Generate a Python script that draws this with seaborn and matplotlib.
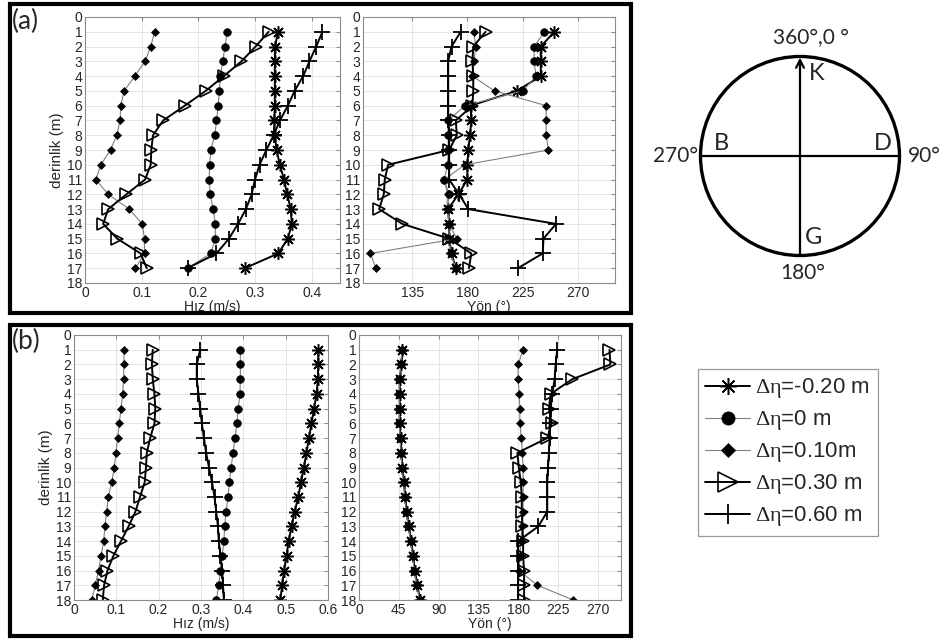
import numpy as np
import pandas as pd
import matplotlib
matplotlib.use('Agg')
import matplotlib.pyplot as plt
import seaborn as sns
from matplotlib.patches import Circle, Rectangle
from matplotlib.lines import Line2D

sns.set_style("white")
plt.rcParams['font.family'] = ['Liberation Sans', 'DejaVu Sans']
plt.rcParams['mathtext.fontset'] = 'custom'
plt.rcParams['mathtext.rm'] = 'Liberation Serif'
plt.rcParams['mathtext.it'] = 'Liberation Serif'

# derinlik (m)
depth_a = list(range(1, 18))
depth_b = list(range(1, 19))

series_labels = [r"$\Delta\eta$=-0.20 m", r"$\Delta\eta$=0 m", r"$\Delta\eta$=0.10m",
                 r"$\Delta\eta$=0.30 m", r"$\Delta\eta$=0.60 m"]

# (a) hiz (m/s)
hiz_a_m020 = [0.341, 0.335, 0.335, 0.335, 0.335, 0.335, 0.334, 0.335, 0.338, 0.344, 0.351, 0.357, 0.363, 0.365, 0.358, 0.341, 0.282]
hiz_a_0 = [0.251, 0.247, 0.243, 0.239, 0.237, 0.235, 0.232, 0.229, 0.222, 0.220, 0.219, 0.221, 0.226, 0.230, 0.230, 0.222, 0.181]
hiz_a_010 = [0.123, 0.116, 0.106, 0.088, 0.069, 0.063, 0.062, 0.056, 0.045, 0.028, 0.019, 0.041, 0.078, 0.101, 0.105, 0.105, 0.089]
hiz_a_030 = [0.324, 0.301, 0.276, 0.245, 0.213, 0.176, 0.138, 0.120, 0.117, 0.116, 0.106, 0.073, 0.041, 0.032, 0.057, 0.098, 0.109]
hiz_a_060 = [0.419, 0.408, 0.396, 0.385, 0.370, 0.358, 0.344, 0.333, 0.320, 0.308, 0.300, 0.294, 0.284, 0.270, 0.254, 0.232, 0.181]

# (a) yon (derece)
yon_a_m020 = [250.6, 239.6, 239.6, 239.6, 220.2, 182.6, 183.1, 182.0, 180.7, 179.9, 179.9, 172.6, 164.3, 165.1, 165.1, 167.0, 170.5]
yon_a_0 = [242.6, 234.2, 234.2, 235.8, 225.0, 178.0, 164.3, 164.3, 164.3, 163.8, 161.0, 165.1, 163.8, 165.1, 165.1, 166.5, 170.5]
yon_a_010 = [185.3, 186.6, 185.3, 184.0, 202.0, 244.0, 244.0, 244.0, 245.8, 177.8, 161.1, 163.8, 163.2, 165.1, 171.3, 101.1, 105.4]
yon_a_030 = [194.7, 184.7, 184.0, 184.7, 184.7, 184.0, 170.5, 171.3, 165.1, 115.4, 112.7, 111.9, 108.1, 127.0, 165.1, 183.1, 181.2]
yon_a_060 = [174.5, 167.0, 164.3, 164.3, 164.3, 164.3, 164.3, 165.1, 165.1, 165.1, 165.1, 173.2, 180.7, 252.0, 241.8, 241.2, 221.0]

# (b) hiz (m/s)
hiz_b_m020 = [0.577, 0.577, 0.576, 0.573, 0.567, 0.561, 0.555, 0.549, 0.543, 0.536, 0.530, 0.521, 0.514, 0.507, 0.502, 0.496, 0.492, 0.487]
hiz_b_0 = [0.393, 0.393, 0.393, 0.392, 0.388, 0.385, 0.380, 0.376, 0.371, 0.367, 0.364, 0.359, 0.356, 0.354, 0.350, 0.346, 0.342, 0.336]
hiz_b_010 = [0.118, 0.118, 0.117, 0.115, 0.111, 0.107, 0.103, 0.099, 0.095, 0.089, 0.081, 0.077, 0.073, 0.070, 0.064, 0.058, 0.050, 0.042]
hiz_b_030 = [0.186, 0.184, 0.186, 0.190, 0.192, 0.190, 0.180, 0.172, 0.170, 0.167, 0.156, 0.145, 0.129, 0.111, 0.093, 0.079, 0.071, 0.068]
hiz_b_060 = [0.298, 0.290, 0.290, 0.294, 0.298, 0.302, 0.307, 0.312, 0.319, 0.326, 0.332, 0.336, 0.340, 0.342, 0.346, 0.350, 0.352, 0.354]

# (b) yon (derece)
yon_b_m020 = [49, 48, 46, 46, 46, 46, 47, 48, 49, 51, 52, 54, 56, 59, 61, 63, 66, 69]
yon_b_0 = [48.5, 47.5, 45.5, 45.5, 45.5, 45.5, 46.5, 47.5, 48.5, 50.5, 51.5, 53.5, 55.5, 58.5, 60.5, 62.5, 65.5, 68.5]
yon_b_010 = [185.4, 179.8, 179.8, 180.9, 181.7, 181.7, 183.5, 184.6, 185.4, 185.4, 185.4, 185.4, 184.6, 182.5, 182.0, 180.9, 201.5, 242.0]
yon_b_030 = [283.0, 284.0, 241.0, 216.5, 214.6, 217.6, 212.7, 179.0, 180.5, 182.8, 183.9, 183.9, 184.6, 185.4, 185.4, 186.5, 186.5, 186.5]
yon_b_060 = [224.0, 222.1, 221.0, 218.3, 216.5, 215.3, 215.3, 214.6, 213.5, 212.7, 212.7, 212.7, 202.6, 179.8, 179.8, 179.8, 179.8, 179.8]

styles = [
    dict(marker=(8, 2, 0), markersize=9, color="k", linewidth=1.4,
         markerfacecolor="k", markeredgecolor="k", markeredgewidth=1.1),
    dict(marker="o", markersize=5.5, color="0.5", linewidth=0.8,
         markerfacecolor="k", markeredgecolor="k", markeredgewidth=0.5),
    dict(marker="D", markersize=4, color="0.5", linewidth=0.8,
         markerfacecolor="k", markeredgecolor="k", markeredgewidth=0.5),
    dict(marker=">", markersize=9, color="k", linewidth=1.4,
         markerfacecolor="none", markeredgecolor="k", markeredgewidth=1.2),
    dict(marker="+", markersize=11, color="k", linewidth=1.4,
         markeredgecolor="k", markeredgewidth=1.3),
]
# legend markers are drawn larger than in the plots
legend_ms = [12, 9.5, 7.5, 15, 15]


def draw_panel(ax, depth, series, xlim, xticks, xticklabels, xlabel, ylabel=None):
    for vals, st in zip(series, styles):
        df = pd.DataFrame({"x": vals, "depth": depth})
        sns.lineplot(data=df, x="x", y="depth", ax=ax, sort=False,
                     estimator=None, legend=False, **st)
    ax.set_xlim(*xlim)
    ax.set_ylim(18, 0)
    ax.set_yticks(range(0, 19))
    ax.set_xticks(xticks)
    ax.set_xticklabels(xticklabels)
    ax.grid(True, color="0.88", linewidth=0.6)
    ax.set_axisbelow(True)
    for sp in ax.spines.values():
        sp.set_color("0.55")
        sp.set_linewidth(0.8)
    ax.tick_params(direction="in", length=3, color="0.55", top=True, right=True,
                   labelsize=10, pad=2)
    ax.set_xlabel(xlabel, fontsize=10, labelpad=0)
    ax.set_ylabel(ylabel if ylabel else "", fontsize=11, labelpad=2)


W, H = 941, 642
fig = plt.figure(figsize=(W / 100, H / 100), dpi=100)


def px_axes(x0, y0, x1, y1):
    return fig.add_axes([x0 / W, 1 - y1 / H, (x1 - x0) / W, (y1 - y0) / H])


ax_al = px_axes(85, 17, 340, 283)
ax_ar = px_axes(363, 17, 615, 283)
ax_bl = px_axes(74, 335, 328, 600)
ax_br = px_axes(359, 335, 621, 600)

draw_panel(ax_al, depth_a, [hiz_a_m020, hiz_a_0, hiz_a_010, hiz_a_030, hiz_a_060],
           (0, 0.45), [0, 0.1, 0.2, 0.3, 0.4], ["0", "0.1", "0.2", "0.3", "0.4"],
           "Hız (m/s)", "derinlik (m)")
draw_panel(ax_ar, depth_a, [yon_a_m020, yon_a_0, yon_a_010, yon_a_030, yon_a_060],
           (95, 300), [135, 180, 225, 270], ["135", "180", "225", "270"], "Yön (°)")
draw_panel(ax_bl, depth_b, [hiz_b_m020, hiz_b_0, hiz_b_010, hiz_b_030, hiz_b_060],
           (0, 0.6), [0, 0.1, 0.2, 0.3, 0.4, 0.5, 0.6],
           ["0", "0.1", "0.2", "0.3", "0.4", "0.5", "0.6"], "Hız (m/s)", "derinlik (m)")
draw_panel(ax_br, depth_b, [yon_b_m020, yon_b_0, yon_b_010, yon_b_030, yon_b_060],
           (0, 296), [0, 45, 90, 135, 180, 225, 270],
           ["0", "45", "90", "135", "180", "225", "270"], "Yön (°)")

# panel frames
fig.add_artist(Rectangle((10 / W, 1 - 313 / H), 621 / W, 309 / H, transform=fig.transFigure,
                         fill=False, edgecolor="k", linewidth=3))
fig.add_artist(Rectangle((10 / W, 1 - 636 / H), 621 / W, 311 / H, transform=fig.transFigure,
                         fill=False, edgecolor="k", linewidth=3))
fig.text(12 / W, 1 - 21 / H, "(a)", fontsize=19, family=["Lato", "DejaVu Sans"], va="center")
fig.text(12 / W, 1 - 341 / H, "(b)", fontsize=19, family=["Lato", "DejaVu Sans"], va="center")

# compass sketch
ax_c = fig.add_axes([640 / W, 0, 301 / W, 1])
ax_c.set_xlim(640, 941)
ax_c.set_ylim(642, 0)
ax_c.axis("off")
cx, cy, r = 800, 156, 99.5
ax_c.add_patch(Circle((cx, cy), r, fill=False, edgecolor="k", linewidth=2.4))
ax_c.plot([cx - r, cx + r], [cy, cy], color="k", linewidth=1.6)
ax_c.annotate("", xy=(cx, cy - r + 1), xytext=(cx, cy + r),
              arrowprops=dict(arrowstyle="->", color="k", linewidth=1.6, mutation_scale=14,
                              shrinkA=0, shrinkB=0))
cfont = ["Lato", "DejaVu Sans"]
ax_c.text(811, 38, "360°,0 °", fontsize=15, family=cfont, ha="center", va="center")
ax_c.text(817, 74, "K", fontsize=17, family=cfont, ha="center", va="center")
ax_c.text(721, 143, "B", fontsize=17, family=cfont, ha="center", va="center")
ax_c.text(883, 143, "D", fontsize=17, family=cfont, ha="center", va="center")
ax_c.text(675, 156, "270°", fontsize=15, family=cfont, ha="center", va="center")
ax_c.text(924, 156, "90°", fontsize=15, family=cfont, ha="center", va="center")
ax_c.text(814, 237, "G", fontsize=17, family=cfont, ha="center", va="center")
ax_c.text(803, 273, "180°", fontsize=15, family=cfont, ha="center", va="center")

# legend
handles = []
for st, ms in zip(styles, legend_ms):
    kw = dict(st)
    kw["markersize"] = ms
    handles.append(Line2D([], [], **kw))
leg = fig.legend(handles, series_labels, loc="upper left",
                 bbox_to_anchor=(698 / W, 1 - 369 / H), fontsize=16, frameon=True,
                 fancybox=False, edgecolor="0.5", handlelength=2.0, handletextpad=0.25,
                 labelspacing=0.36, borderpad=0.33, borderaxespad=0)
leg.get_frame().set_linewidth(0.9)

fig.savefig("out.png", dpi=100)
